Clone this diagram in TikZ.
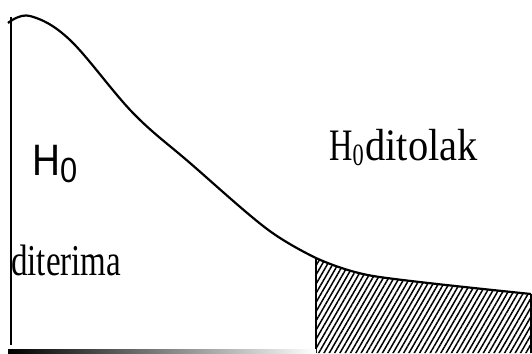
\documentclass[tikz,border=0pt]{standalone}
\usepackage{fontspec}
\setmainfont{Liberation Serif}
\setsansfont{Liberation Sans}
\usepackage{graphicx}
\usetikzlibrary{patterns.meta}

\begin{document}
\begin{tikzpicture}[
  x=1pt, y=-1pt,
  curve/.style={line width=2.2pt, line join=round},
  axis/.style={line width=1.8pt},
  hatch/.style={pattern={Lines[angle=60,distance=4.6pt,line width=1.5pt]}},
  label/.style={anchor=base west, inner sep=0pt}
]
\useasboundingbox (0,0) rectangle (532,353);

% rejection region
\fill[hatch] (316,353) -- plot[smooth] coordinates {(316,258) (373,276) (531,294)} -- (531,353) -- cycle;
\draw[axis] (316,353) -- (316,258);
\draw[axis] (531,294) -- (531,353);

% axes
\shade[left color=black, right color=white] (8,349) rectangle (316,353);
\draw[axis] (11,17) -- (11,345);

% density curve
\draw[curve] plot[smooth, tension=0.6] coordinates {(8,23) (30,16) (70,40) (133,113) (190,163) (267,229) (316,258)};
\draw[curve] plot[smooth] coordinates {(316,258) (373,276) (531,294)};

% labels
\node[label] (h0) at (32,175) {\sffamily\scalebox{0.88}[1]{\fontsize{44}{44}\selectfont H\raisebox{-7pt}{\fontsize{35}{35}\selectfont 0}}};
\node[label] (terima) at (11,275) {\scalebox{0.75}[1]{\fontsize{44}{44}\selectfont diterima}};
\node[label] (tolak) at (329,160) {\scalebox{0.72}[1]{\fontsize{45}{45}\selectfont H}\raisebox{-5pt}{\scalebox{0.72}[1]{\fontsize{31}{31}\selectfont 0}}\hspace{1.5pt}\scalebox{0.9}[1]{\fontsize{45}{45}\selectfont ditolak}};
\end{tikzpicture}
\end{document}
